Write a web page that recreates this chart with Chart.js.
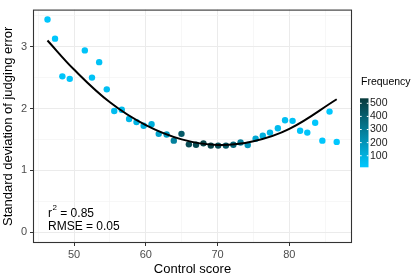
<!DOCTYPE html>
<html>
<head>
<meta charset="utf-8">
<script src="https://cdn.jsdelivr.net/npm/chart.js@4"></script>
<style>
  html, body { margin: 0; padding: 0; background: #fff; }
  #wrap { width: 415px; height: 277px; }
</style>
</head>
<body>
<div id="wrap"><canvas id="chart" width="415" height="277"></canvas></div>
<script>
// Data
const controlScore = [46.3, 47.35, 48.37, 49.4, 51.5, 52.5, 53.5, 54.56, 55.6, 56.65, 57.67, 58.7, 59.7, 60.8,
    61.8, 62.9, 63.9, 64.97, 66.0, 67.0, 68.03, 69.06, 70.08, 71.16, 72.2, 73.2, 74.2, 75.3, 76.3, 77.3,
    78.4, 79.4, 80.45, 81.5, 82.5, 83.6, 84.6, 85.6, 86.6];
const sdError = [3.44, 3.13, 2.52, 2.48, 2.94, 2.50, 2.75, 2.31, 1.96, 1.98, 1.83, 1.78, 1.72, 1.745,
    1.59, 1.58, 1.48, 1.59, 1.42, 1.414, 1.436, 1.40, 1.40, 1.40, 1.414, 1.45, 1.41, 1.51, 1.56, 1.61,
    1.68, 1.81, 1.80, 1.64, 1.61, 1.77, 1.48, 1.95, 1.46];
const frequency = [20, 20, 25, 25, 30, 35, 35, 45, 55, 65, 75, 85, 100, 110,
    150, 180, 280, 420, 470, 480, 510, 500, 470, 430, 370, 280, 190, 130, 100, 75,
    60, 45, 35, 30, 25, 20, 20, 15, 15];

// fitted curve, read at a few x positions
const fitX = [46.3, 50, 55, 60, 65, 70, 75, 80, 86.6];
const fitY = [3.10, 2.63, 2.10, 1.73, 1.50, 1.41, 1.47, 1.67, 2.15];

const xTicks = [50, 60, 70, 80];
const yTicks = [0, 1, 2, 3];
const freqBreaks = [100, 200, 300, 400, 500];
const freqLimits = [12, 538];

const lowColor = [0, 200, 255];
const highColor = [8, 58, 60];
const FONT = '"Liberation Sans", Arial, sans-serif';

function freqColor(f) {
    const t = Math.max(0, Math.min(1, (f - freqLimits[0]) / (freqLimits[1] - freqLimits[0])));
    const c = lowColor.map((v, i) => Math.round(v + (highColor[i] - v) * t));
    return `rgb(${c[0]},${c[1]},${c[2]})`;
}

const points = controlScore.map((x, i) => ({ x: x, y: sdError[i] }));
const fitPoints = fitX.map((x, i) => ({ x: x, y: fitY[i] }));

// panel border, annotation and colour bar
const extras = {
    id: 'extras',
    afterDatasetsDraw(chart) {
        const { ctx, chartArea } = chart;
        ctx.save();
        ctx.strokeStyle = '#333333';
        ctx.lineWidth = 1.1;
        ctx.strokeRect(chartArea.left + 0.5, chartArea.top + 0.5,
            chartArea.right - chartArea.left - 1, chartArea.bottom - chartArea.top - 1);

        // r^2 and RMSE
        ctx.fillStyle = '#000';
        ctx.textBaseline = 'middle';
        ctx.textAlign = 'left';
        const tx = chartArea.left + 15;
        const y1 = chartArea.bottom - 29.5;
        ctx.font = '12px ' + FONT;
        ctx.fillText('r', tx, y1);
        const rw = ctx.measureText('r').width;
        ctx.font = '8px ' + FONT;
        ctx.fillText('2', tx + rw + 0.5, y1 - 6);
        const sw = ctx.measureText('2').width;
        ctx.font = '12px ' + FONT;
        ctx.fillText(' = 0.85', tx + rw + sw + 0.5, y1);
        ctx.fillText('RMSE = 0.05', tx, chartArea.bottom - 16);

        // colour bar legend
        const bx = chartArea.right + 8, bw = 8.5;
        const bTop = 98.3, bBot = 167.3;
        ctx.font = '10.5px ' + FONT;
        ctx.fillStyle = '#000';
        ctx.fillText('Frequency', bx + 1, 82.5);
        const grad = ctx.createLinearGradient(0, bBot, 0, bTop);
        for (let k = 0; k <= 10; k++) {
            const f = freqLimits[0] + (freqLimits[1] - freqLimits[0]) * k / 10;
            grad.addColorStop(k / 10, freqColor(f));
        }
        ctx.fillStyle = grad;
        ctx.fillRect(bx, bTop, bw, bBot - bTop);
        ctx.fillStyle = '#1a1a1a';
        ctx.font = '10.5px ' + FONT;
        freqBreaks.forEach(v => {
            const y = bBot - (v - freqLimits[0]) / (freqLimits[1] - freqLimits[0]) * (bBot - bTop);
            ctx.strokeStyle = '#fff';
            ctx.lineWidth = 1;
            ctx.beginPath();
            ctx.moveTo(bx, y); ctx.lineTo(bx + 1.7, y);
            ctx.moveTo(bx + bw - 1.7, y); ctx.lineTo(bx + bw, y);
            ctx.stroke();
            ctx.fillText(String(v), bx + bw + 1.5, y);
        });
        ctx.restore();
    }
};

new Chart(document.getElementById('chart'), {
    type: 'scatter',
    data: {
        datasets: [
            {
                data: fitPoints,
                showLine: true,
                borderColor: '#000',
                borderWidth: 2,
                pointRadius: 0,
                tension: 0.4,
                order: 0
            },
            {
                data: points,
                pointRadius: 3.2,
                pointBorderWidth: 0,
                pointBackgroundColor: frequency.map(freqColor),
                order: 1
            }
        ]
    },
    options: {
        responsive: false,
        animation: false,
        layout: { padding: { left: 0, top: 3, right: 63, bottom: 0 } },
        plugins: { legend: { display: false }, tooltip: { enabled: false } },
        scales: {
            x: {
                type: 'linear',
                min: 44.28,
                max: 88.73,
                afterBuildTicks: s => { s.ticks = [45, 50, 55, 60, 65, 70, 75, 80, 85].map(v => ({ value: v })); },
                afterFit: s => { s.height = 34; },
                border: { display: false },
                grid: {
                    color: c => xTicks.includes(c.tick.value) ? '#EBEBEB' : '#F3F3F3',
                    lineWidth: c => xTicks.includes(c.tick.value) ? 1 : 0.7,
                    tickColor: c => xTicks.includes(c.tick.value) ? '#333333' : 'rgba(0,0,0,0)',
                    tickLength: 3
                },
                ticks: {
                    autoSkip: false,
                    maxRotation: 0,
                    padding: 2,
                    color: '#4D4D4D',
                    font: { family: FONT, size: 11 },
                    callback: v => xTicks.includes(v) ? String(v) : ''
                },
                title: {
                    display: true,
                    text: 'Control score',
                    color: '#000',
                    font: { family: FONT, size: 13 },
                    padding: { top: 0, bottom: 0 }
                }
            },
            y: {
                type: 'linear',
                min: -0.176,
                max: 3.60,
                afterBuildTicks: s => { s.ticks = [0, 0.5, 1, 1.5, 2, 2.5, 3, 3.5].map(v => ({ value: v })); },
                afterFit: s => { s.width = 33; },
                border: { display: false },
                grid: {
                    color: c => yTicks.includes(c.tick.value) ? '#EBEBEB' : '#F3F3F3',
                    lineWidth: c => yTicks.includes(c.tick.value) ? 1 : 0.7,
                    tickColor: c => yTicks.includes(c.tick.value) ? '#333333' : 'rgba(0,0,0,0)',
                    tickLength: 3
                },
                ticks: {
                    autoSkip: false,
                    padding: 3,
                    color: '#4D4D4D',
                    font: { family: FONT, size: 11 },
                    callback: v => yTicks.includes(v) ? String(v) : ''
                },
                title: {
                    display: true,
                    text: 'Standard deviation of judging error',
                    color: '#000',
                    font: { family: FONT, size: 13 },
                    padding: { top: 1, bottom: 0 }
                }
            }
        }
    },
    plugins: [extras]
});
</script>
</body>
</html>
